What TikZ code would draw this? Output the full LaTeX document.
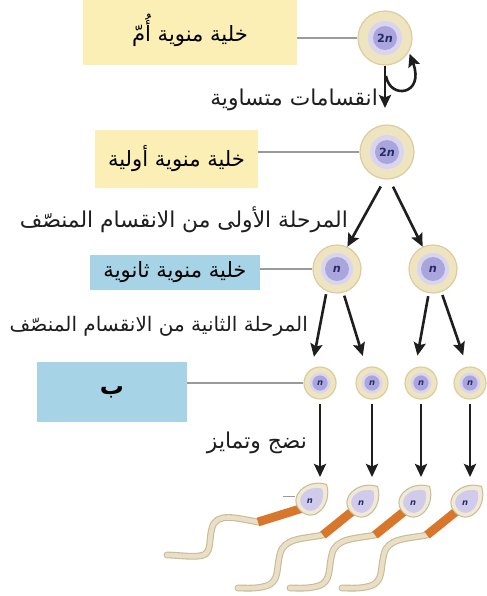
\documentclass[tikz,border=0pt]{standalone}
\usepackage{fontspec}
\setmainfont{DejaVu Sans}
\newfontfamily\arabicfont[Script=Arabic]{DejaVu Sans}
\TeXXeTstate=1
\usetikzlibrary{arrows.meta}
\definecolor{sand}{HTML}{FBEFB5}
\definecolor{sky}{HTML}{A6D3E5}
\definecolor{ring}{HTML}{EEE4C0}
\definecolor{ringline}{HTML}{DCCDA0}
\definecolor{lilac}{HTML}{DAD5EE}
\definecolor{nucleus}{HTML}{ABA5DE}
\definecolor{ink}{HTML}{1E1E1E}
\definecolor{navy}{HTML}{272C66}
\definecolor{lead}{HTML}{9A9A9A}
\definecolor{tailc}{HTML}{E8DFC6}
\definecolor{tailline}{HTML}{C9BB94}
\definecolor{midpiece}{HTML}{D8772C}
\definecolor{headc}{HTML}{EFE9D6}
\newcommand{\ar}[1]{{\arabicfont\beginR #1\endR}}
\tikzset{
  yellowbox/.style={rectangle, inner sep=0pt, fill=sand, font=\fontsize{30}{34}\arabicfont},
  bluebox/.style={rectangle, inner sep=0pt, fill=sky, font=\fontsize{30}{34}\arabicfont},
  cell/.style n args={3}{circle, inner sep=0pt, minimum size=#1, fill=ring, draw=ringline, line width=0.6mm,
    text=navy, path picture={
      \fill[lilac] (path picture bounding box.center) circle (#2);
      \fill[nucleus] (path picture bounding box.center) circle (#3);}},
  bigcell/.style={cell={27mm}{8.5mm}{6mm}, font=\fontsize{16}{16}\bfseries},
  midcell/.style={cell={24mm}{8mm}{6mm}, font=\fontsize{16}{16}\bfseries},
  smallcell/.style={cell={16mm}{5.2mm}{3.8mm}, font=\fontsize{12}{12}\bfseries},
  link/.style={draw=lead, line width=0.6mm},
  arr/.style={draw=ink, line width=1.3mm, -{Stealth[length=6.5mm,width=6mm,inset=1.2mm]}},
  lab/.style={font=\fontsize{31}{35}\arabicfont, text=ink, inner sep=0pt},
  tailstroke/.style={draw=tailline, line width=3.4mm, line cap=round},
  tailfill/.style={draw=tailc, line width=2.3mm, line cap=round},
  piece/.style={draw=midpiece, line width=4.4mm},
  headout/.style={fill=headc, draw=tailline, line width=0.5mm},
  spermn/.style={inner sep=0pt, text=navy, font=\fontsize{12}{12}\bfseries},
}
\def\headpath{(22,0) .. controls (12,19) and (-15,19) .. (-15,0) .. controls (-15,-19) and (12,-19) .. (22,0) -- cycle}
\def\tailA{(-8,8) -- (-53,22) .. controls (-75,18) and (-95,12) .. (-99,28) .. controls (-103,42) and (-98,55) .. (-112,56) .. controls (-122,57) and (-135,55) .. (-144,55)}
\def\tailB{(-8,8) -- (-39,33) .. controls (-60,37) and (-78,36) .. (-82,52) .. controls (-86,66) and (-82,80) .. (-96,84) .. controls (-106,87) and (-116,86) .. (-124,86)}
\begin{document}
\begin{tikzpicture}[x=0.5mm, y=-0.5mm]
  \clip (0,0) rectangle (487,596);
  \fill[white] (0,0) rectangle (487,596);

  % cells
  \node[bigcell] (m) at (385,38) {2\textit{n}};
  \node[bigcell] (p) at (387,152) {2\textit{n}};
  \node[midcell] (s1) at (337,269) {\textit{n}};
  \node[midcell] (s2) at (433,269) {\textit{n}};
  \foreach \i/\x in {1/320,2/372,3/421,4/470}
    \node[smallcell] (t\i) at (\x,383) {\textit{n}};

  % name boxes
  \node[yellowbox, minimum width=107mm, minimum height=35mm] (bm) at (190,30) {\ar{خلية منوية أُمّ}};
  \node[yellowbox, minimum width=81.5mm, minimum height=29mm] (bp) at (176.5,159) {\ar{خلية منوية أولية}};
  \node[bluebox, minimum width=85mm, minimum height=17.5mm] (bs) at (175,272.5) {\ar{خلية منوية ثانوية}};
  \node[bluebox, minimum width=75mm, minimum height=30mm, font=\fontsize{34}{34}\arabicfont\bfseries] (bt) at (112,392) {\ar{ب}};

  \draw[link] (bm.east |- m) -- (m);
  \draw[link] (bp.east |- p) -- (p);
  \draw[link] (bs.east |- s1) -- (s1);
  \draw[link] (bt.east |- t1) -- (t1);

  % stage labels
  \node[lab, anchor=east] (l0) at (378,100) {\ar{انقسامات متساوية}};
  \node[lab, anchor=east] (l1) at (348,220) {\ar{المرحلة الأولى من الانقسام المنصّف}};
  \node[lab, anchor=east, font=\fontsize{28.5}{33}\arabicfont] (l2) at (308,326) {\ar{المرحلة الثانية من الانقسام المنصّف}};
  \node[lab, anchor=east] (l3) at (307,443) {\ar{نضج وتمايز}};

  % sperms
  \begin{scope}[shift={(311,500)}]
    \draw[tailstroke] \tailA;
    \draw[tailfill] \tailA;
    \draw[piece] (-8,8) -- (-53,22);
    \begin{scope}[rotate=45]
      \filldraw[headout] \headpath;
      \fill[lilac!80!nucleus, scale=0.72] \headpath;
    \end{scope}
    \node[spermn] (sn1) at (-1,1) {\textit{n}};
  \end{scope}
  \draw[link, line width=0.4mm] (283,496) -- (295,496);
  \foreach \hx [count=\i from 2] in {362,414,466} {
    \begin{scope}[shift={(\hx,502)}]
      \draw[tailstroke] \tailB;
      \draw[tailfill] \tailB;
      \draw[piece] (-8,8) -- (-39,33);
      \begin{scope}[rotate=45]
        \filldraw[headout] \headpath;
        \fill[lilac!80!nucleus, scale=0.72] \headpath;
      \end{scope}
      \node[spermn] (sn\i) at (-1,1) {\textit{n}};
    \end{scope}
  }

  % arrows
  \coordinate (dn) at (385,108);
  \coordinate (lp) at (386,76);
  \draw[arr] (m) -- (dn);
  \draw[arr, shorten >=1mm] (lp) .. controls (390,100) and (425,95) .. (m.-30);
  \draw[arr, shorten <=4mm] (p.265) -- (s1.65);
  \draw[arr, shorten <=4mm] (p.275) -- (s2.115);
  \draw[arr, shorten <=1.5mm, shorten >=6mm] (s1.245) -- (t1.120);
  \draw[arr, shorten <=1.5mm, shorten >=6mm] (s1.285) -- (t2.110);
  \draw[arr, shorten <=1.5mm, shorten >=6mm] (s2.260) -- (t3.110);
  \draw[arr, shorten <=1.5mm, shorten >=6mm] (s2.290) -- (t4.100);
  \foreach \i/\x in {1/320,2/372,3/421,4/470} {
    \coordinate (h\i) at (\x,477);
    \draw[arr, shorten <=2mm] (t\i) -- (h\i);
  }
\end{tikzpicture}
\end{document}
